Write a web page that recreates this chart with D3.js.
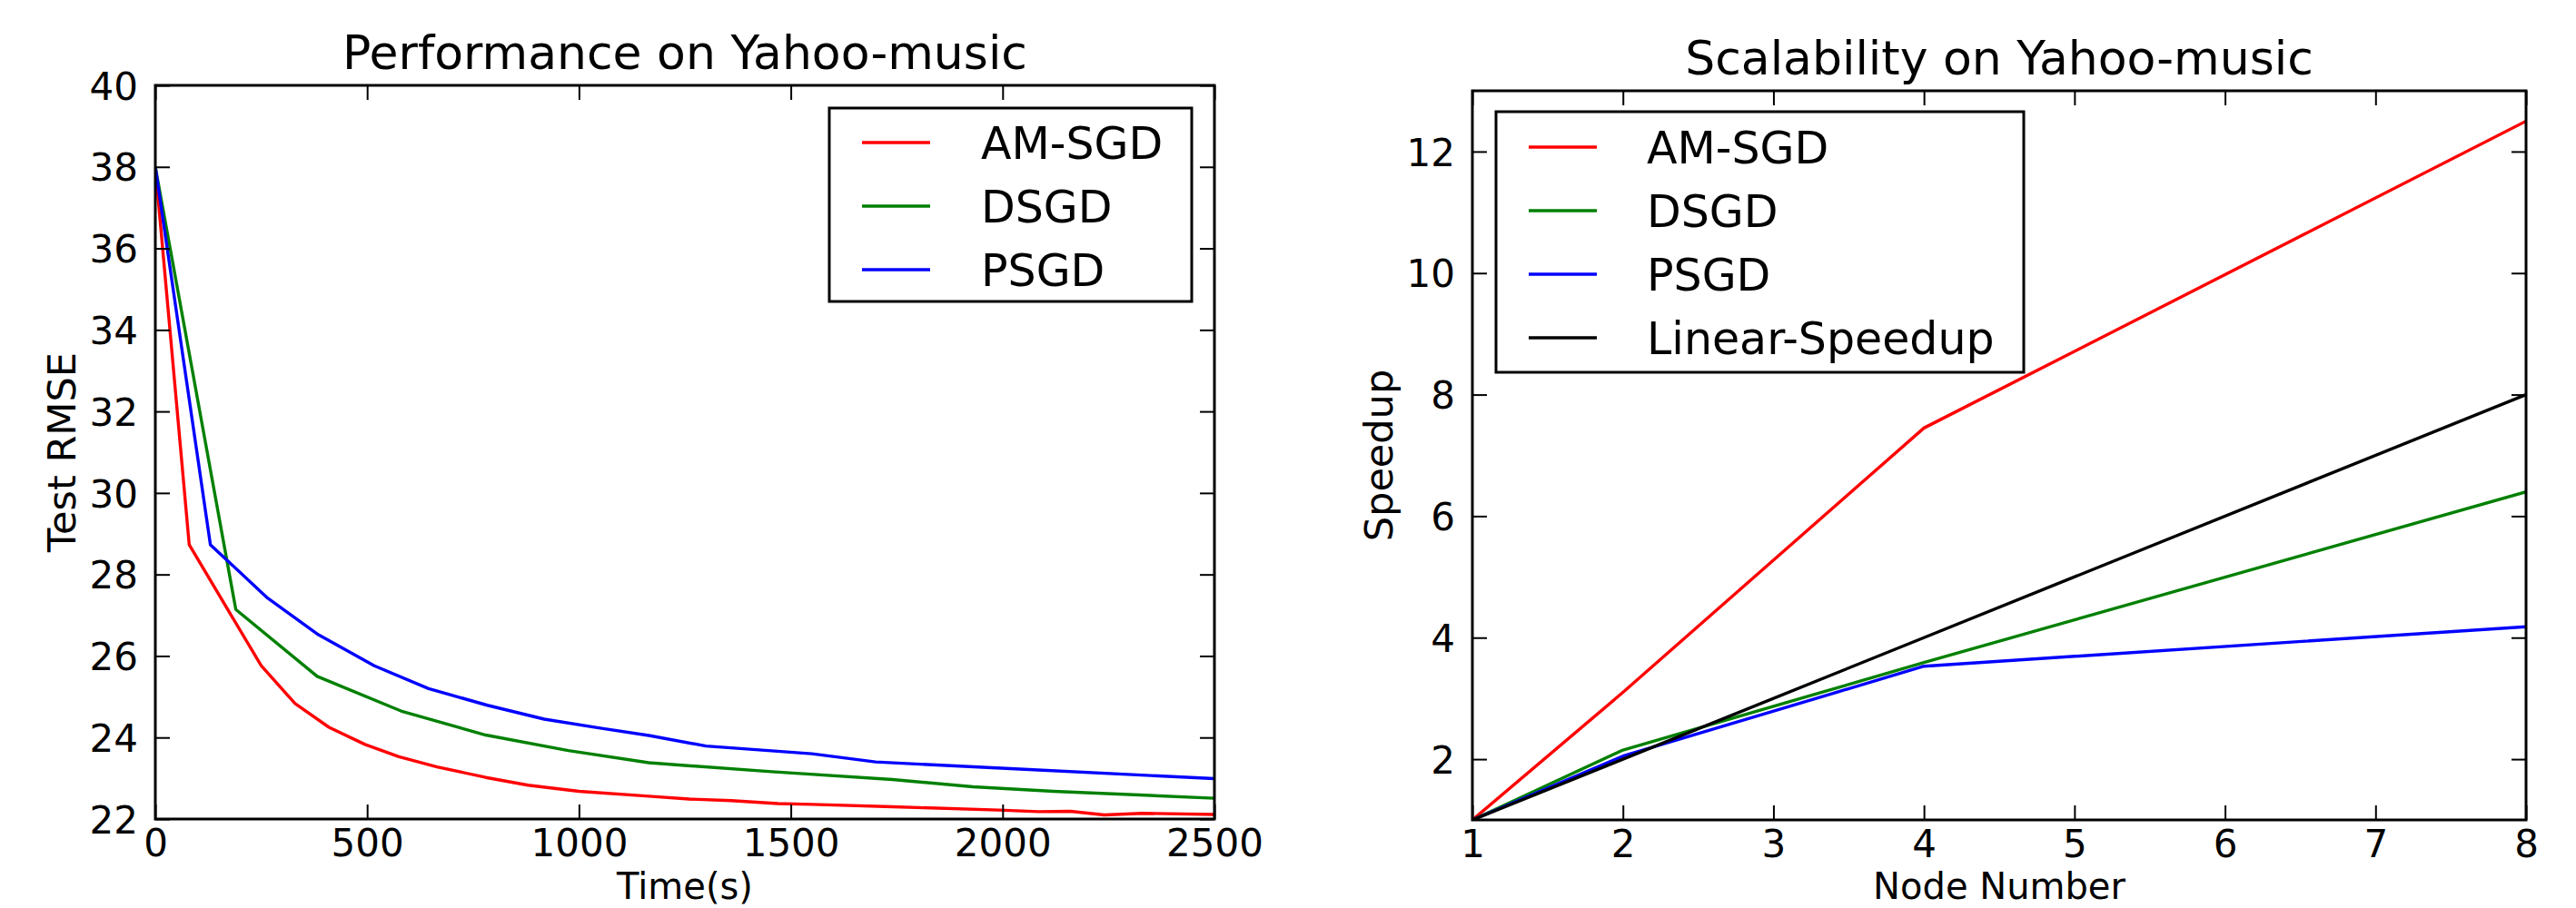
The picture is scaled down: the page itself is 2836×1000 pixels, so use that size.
<!DOCTYPE html>
<html><head><meta charset="utf-8">
<script src="https://cdn.jsdelivr.net/npm/d3@7"></script>
<style>
body{margin:0;background:#fff}
svg{display:block}
text{font-family:"DejaVu Sans";fill:#000}
</style>
</head><body>
<svg id="c" width="2836" height="1000"></svg>
<script>
// ---- Left chart data: Performance on Yahoo-music ----
const perfTitle = "Performance on Yahoo-music";
const perfXLabel = "Time(s)";
const perfYLabel = "Test RMSE";
const perfXTicks = [0, 500, 1000, 1500, 2000, 2500];
const perfYTicks = [22, 24, 26, 28, 30, 32, 34, 36, 38, 40];

const amTime = [0, 80, 250, 330, 410, 495, 575, 665, 780, 880, 1000, 1165, 1260, 1360, 1470, 1550, 1740, 1990, 2085, 2160, 2240, 2330, 2500];
const amRmse = [38, 28.73, 25.76, 24.83, 24.25, 23.83, 23.53, 23.28, 23.02, 22.83, 22.68, 22.56, 22.49, 22.45, 22.38, 22.36, 22.30, 22.22, 22.18, 22.19, 22.10, 22.14, 22.11];

const dsTime = [0, 190, 382, 580, 780, 975, 1165, 1455, 1740, 1930, 2120, 2500];
const dsRmse = [38, 27.14, 25.50, 24.65, 24.06, 23.68, 23.38, 23.16, 22.97, 22.79, 22.68, 22.51];

const psTime = [0, 130, 265, 385, 517, 645, 784, 918, 1050, 1165, 1300, 1550, 1700, 2030, 2500];
const psRmse = [38, 28.73, 27.42, 26.52, 25.76, 25.20, 24.79, 24.45, 24.23, 24.05, 23.79, 23.60, 23.40, 23.23, 22.99];

// ---- Right chart data: Scalability on Yahoo-music ----
const scalTitle = "Scalability on Yahoo-music";
const scalXLabel = "Node Number";
const scalYLabel = "Speedup";
const scalXTicks = [1, 2, 3, 4, 5, 6, 7, 8];
const scalYTicks = [2, 4, 6, 8, 10, 12];
const nodes = [1, 2, 4, 8];
const amSpeed = [1, 3.1, 7.45, 12.5];
const dsSpeed = [1, 2.15, 3.59, 6.4];
const psSpeed = [1, 2.05, 3.53, 4.18];
const linSpeed = [1, 2, 4, 8];

const seriesNames = ["AM-SGD", "DSGD", "PSGD", "Linear-Speedup"];
const seriesColors = ["#ff0000", "#008000", "#0000ff", "#000000"];

const svg = d3.select("#c");
const TICK_FS = 42, LABEL_FS = 40, TITLE_FS = 52, LEG_FS = 49;

function drawPanel(cfg) {
  const g = svg.append("g");
  const x = d3.scaleLinear().domain(cfg.xDomain).range([cfg.left, cfg.right]);
  const y = d3.scaleLinear().domain(cfg.yDomain).range([cfg.bottom, cfg.top]);
  const clipId = "clip" + cfg.id;
  svg.append("clipPath").attr("id", clipId).append("rect")
    .attr("x", cfg.left).attr("y", cfg.top)
    .attr("width", cfg.right - cfg.left).attr("height", cfg.bottom - cfg.top);

  const line = d3.line().x(d => x(d[0])).y(d => y(d[1]));
  const lines = g.append("g").attr("clip-path", `url(#${clipId})`);
  cfg.series.forEach(s => {
    lines.append("path")
      .datum(s.xs.map((v, i) => [v, s.ys[i]]))
      .attr("d", line)
      .attr("fill", "none")
      .attr("stroke", s.color)
      .attr("stroke-width", 3.4)
      .attr("stroke-linejoin", "round");
  });

  // axes with inward ticks on all four sides
  const style = sel => {
    sel.select(".domain").remove();
    sel.selectAll(".tick line").attr("stroke", "#000").attr("stroke-width", 2);
    sel.selectAll(".tick text").attr("font-size", TICK_FS).attr("fill", "#000")
      .attr("font-family", "DejaVu Sans");
  };
  g.append("g").attr("transform", `translate(0,${cfg.bottom})`)
    .call(d3.axisBottom(x).tickValues(cfg.xTicks).tickFormat(d3.format("d")).tickSize(-16).tickPadding(11))
    .call(style);
  g.append("g").attr("transform", `translate(0,${cfg.top})`)
    .call(d3.axisTop(x).tickValues(cfg.xTicks).tickFormat("").tickSize(-16))
    .call(style);
  const ly = g.append("g").attr("transform", `translate(${cfg.left},0)`)
    .call(d3.axisLeft(y).tickValues(cfg.yTicks).tickFormat(d3.format("d")).tickSize(-16).tickPadding(19))
    .call(style);
  ly.selectAll(".tick text").attr("dy", "0.36em");
  g.append("g").attr("transform", `translate(${cfg.right},0)`)
    .call(d3.axisRight(y).tickValues(cfg.yTicks).tickFormat("").tickSize(-16))
    .call(style);

  g.append("rect").attr("x", cfg.left).attr("y", cfg.top)
    .attr("width", cfg.right - cfg.left).attr("height", cfg.bottom - cfg.top)
    .attr("fill", "none").attr("stroke", "#000").attr("stroke-width", 3);

  // title and labels
  const cx = (cfg.left + cfg.right) / 2;
  g.append("text").attr("x", cx).attr("y", cfg.top - 18)
    .attr("text-anchor", "middle").attr("font-size", TITLE_FS).text(cfg.title);
  g.append("text").attr("x", cx).attr("y", 990)
    .attr("text-anchor", "middle").attr("font-size", LABEL_FS).text(cfg.xLabel);
  g.append("text").attr("transform", `translate(${cfg.left - 88},${(cfg.top + cfg.bottom) / 2}) rotate(-90)`)
    .attr("text-anchor", "middle").attr("font-size", 43).text(cfg.yLabel);

  // legend
  const L = cfg.legend;
  const lg = g.append("g");
  lg.append("rect").attr("x", L.x0).attr("y", L.y0).attr("width", L.x1 - L.x0).attr("height", L.y1 - L.y0)
    .attr("fill", "#fff").attr("stroke", "#000").attr("stroke-width", 3);
  cfg.series.forEach((s, i) => {
    const ry = L.firstRow + i * 70;
    lg.append("line").attr("x1", L.x0 + 36).attr("x2", L.x0 + 111).attr("y1", ry).attr("y2", ry)
      .attr("stroke", s.color).attr("stroke-width", 3.4);
    lg.append("text").attr("x", L.textX).attr("y", ry).attr("dy", "0.36em")
      .attr("font-size", LEG_FS).text(s.name);
  });
}

drawPanel({
  id: "L", left: 171, right: 1337, top: 94, bottom: 902,
  xDomain: [0, 2500], yDomain: [22, 40], xTicks: perfXTicks, yTicks: perfYTicks,
  title: perfTitle, xLabel: perfXLabel, yLabel: perfYLabel,
  series: [
    {name: seriesNames[0], color: seriesColors[0], xs: amTime, ys: amRmse},
    {name: seriesNames[1], color: seriesColors[1], xs: dsTime, ys: dsRmse},
    {name: seriesNames[2], color: seriesColors[2], xs: psTime, ys: psRmse}
  ],
  legend: {x0: 913, y0: 119, x1: 1312, y1: 332, firstRow: 157, textX: 1080}
});

drawPanel({
  id: "R", left: 1621, right: 2781, top: 100, bottom: 903,
  xDomain: [1, 8], yDomain: [1, 13], xTicks: scalXTicks, yTicks: scalYTicks,
  title: scalTitle, xLabel: scalXLabel, yLabel: scalYLabel,
  series: [
    {name: seriesNames[0], color: seriesColors[0], xs: nodes, ys: amSpeed},
    {name: seriesNames[1], color: seriesColors[1], xs: nodes, ys: dsSpeed},
    {name: seriesNames[2], color: seriesColors[2], xs: nodes, ys: psSpeed},
    {name: seriesNames[3], color: seriesColors[3], xs: nodes, ys: linSpeed}
  ],
  legend: {x0: 1647, y0: 123, x1: 2228, y1: 410, firstRow: 162, textX: 1813}
});
</script>
</body></html>
